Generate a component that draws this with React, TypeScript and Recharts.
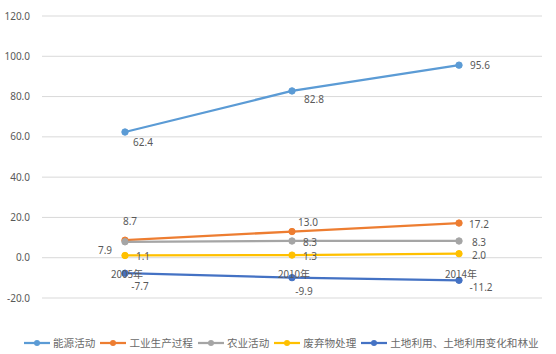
import { CartesianGrid, LabelList, Line, LineChart, XAxis, YAxis } from 'recharts';

const years = ['2005年', '2010年', '2014年'];
const energy = [62.4, 82.8, 95.6];
const industry = [8.7, 13.0, 17.2];
const agriculture = [7.9, 8.3, 8.3];
const waste = [1.1, 1.3, 2.0];
const landUse = [-7.7, -9.9, -11.2];
const yTicks = [-20, 0, 20, 40, 60, 80, 100, 120];

const seriesNames = ['能源活动', '工业生产过程', '农业活动', '废弃物处理', '土地利用、土地利用变化和林业'];
const seriesKeys = ['energy', 'industry', 'agriculture', 'waste', 'landUse'];
const colors = ['#5B9BD5', '#ED7D31', '#A5A5A5', '#FFC000', '#4472C4'];

// label offset (dx, dy) from each point, mimicking the Excel placement
const labelOffsets: number[][][] = [
  [[18, 10], [22, 8], [21, 0]],
  [[5, -19], [16, -10], [20, 1]],
  [[-20, 8], [18, 1], [20, 1]],
  [[18, 1], [18, 1], [20, 1]],
  [[15, 13], [12, 13], [22, 7]],
];

const data = years.map((year, i) => ({
  year,
  energy: energy[i],
  industry: industry[i],
  agriculture: agriculture[i],
  waste: waste[i],
  landUse: landUse[i],
}));

const W = 556;
const H = 310;
const X_AXIS_H = 12;
const M = { top: 16, right: 14, bottom: 0, left: 0 };
const Y_MIN = -20;
const Y_MAX = 120;
const plotH = H - M.top - M.bottom - X_AXIS_H;
const yZero = M.top + (plotH * (Y_MAX - 0)) / (Y_MAX - Y_MIN);

const textColor = '#595959';
const numFont = '"Noto Sans", "Open Sans", sans-serif';
const cjkFont = '"Noto Sans CJK SC", "Noto Sans", sans-serif';

function makeLabel(seriesIdx: number) {
  return (props: any) => {
    const { x, y, value, index } = props;
    const [dx, dy] = labelOffsets[seriesIdx][index];
    return (
      <text
        x={x + dx}
        y={y + dy}
        textAnchor="middle"
        dominantBaseline="central"
        fontSize={10}
        fontFamily={numFont}
        fill={textColor}
      >
        {Number(value).toFixed(1)}
      </text>
    );
  };
}

function YearTick(props: any) {
  const { x, payload } = props;
  return (
    <text
      x={x + 2}
      y={yZero + 16}
      textAnchor="middle"
      dominantBaseline="central"
      fontSize={10}
      fontFamily={cjkFont}
      fill={textColor}
    >
      {payload.value}
    </text>
  );
}

function LegendRow() {
  return (
    <div
      style={{
        position: 'absolute',
        top: 335,
        left: 24,
        display: 'flex',
        alignItems: 'center',
        fontFamily: cjkFont,
        fontSize: 10.6,
        color: '#6a6a6a',
        whiteSpace: 'nowrap',
      }}
    >
      {seriesNames.map((name, i) => (
        <div key={name} style={{ display: 'flex', alignItems: 'center', marginRight: 5 }}>
          <svg width={26} height={10}>
            <line x1={0} y1={5} x2={26} y2={5} stroke={colors[i]} strokeWidth={2.25} />
            <circle cx={13} cy={5} r={3} fill={colors[i]} />
          </svg>
          <span style={{ marginLeft: 3 }}>{name}</span>
        </div>
      ))}
    </div>
  );
}

export default function App() {
  return (
    <div style={{ position: 'absolute', left: 0, top: 0, width: W, height: 354, background: '#fff' }}>
      <LineChart width={W} height={H} data={data} margin={M}>
        <CartesianGrid stroke="#d9d9d9" vertical={false} />
        <XAxis
          dataKey="year"
          height={X_AXIS_H}
          axisLine={false}
          tickLine={false}
          padding={{ left: 83, right: 83 }}
          tick={YearTick}
          interval={0}
        />
        <YAxis
          width={42}
          domain={[Y_MIN, Y_MAX]}
          ticks={yTicks}
          axisLine={false}
          tickLine={false}
          tickMargin={6}
          tick={{ fill: textColor, fontSize: 10, fontFamily: numFont }}
          tickFormatter={(v: number) => v.toFixed(1)}
        />
        {seriesKeys.map((key, i) => (
          <Line
            key={key}
            dataKey={key}
            stroke={colors[i]}
            strokeWidth={2.25}
            dot={{ r: 3.2, fill: colors[i], stroke: colors[i], strokeWidth: 1 }}
            isAnimationActive={false}
          >
            <LabelList dataKey={key} content={makeLabel(i)} />
          </Line>
        ))}
      </LineChart>
      <LegendRow />
    </div>
  );
}
